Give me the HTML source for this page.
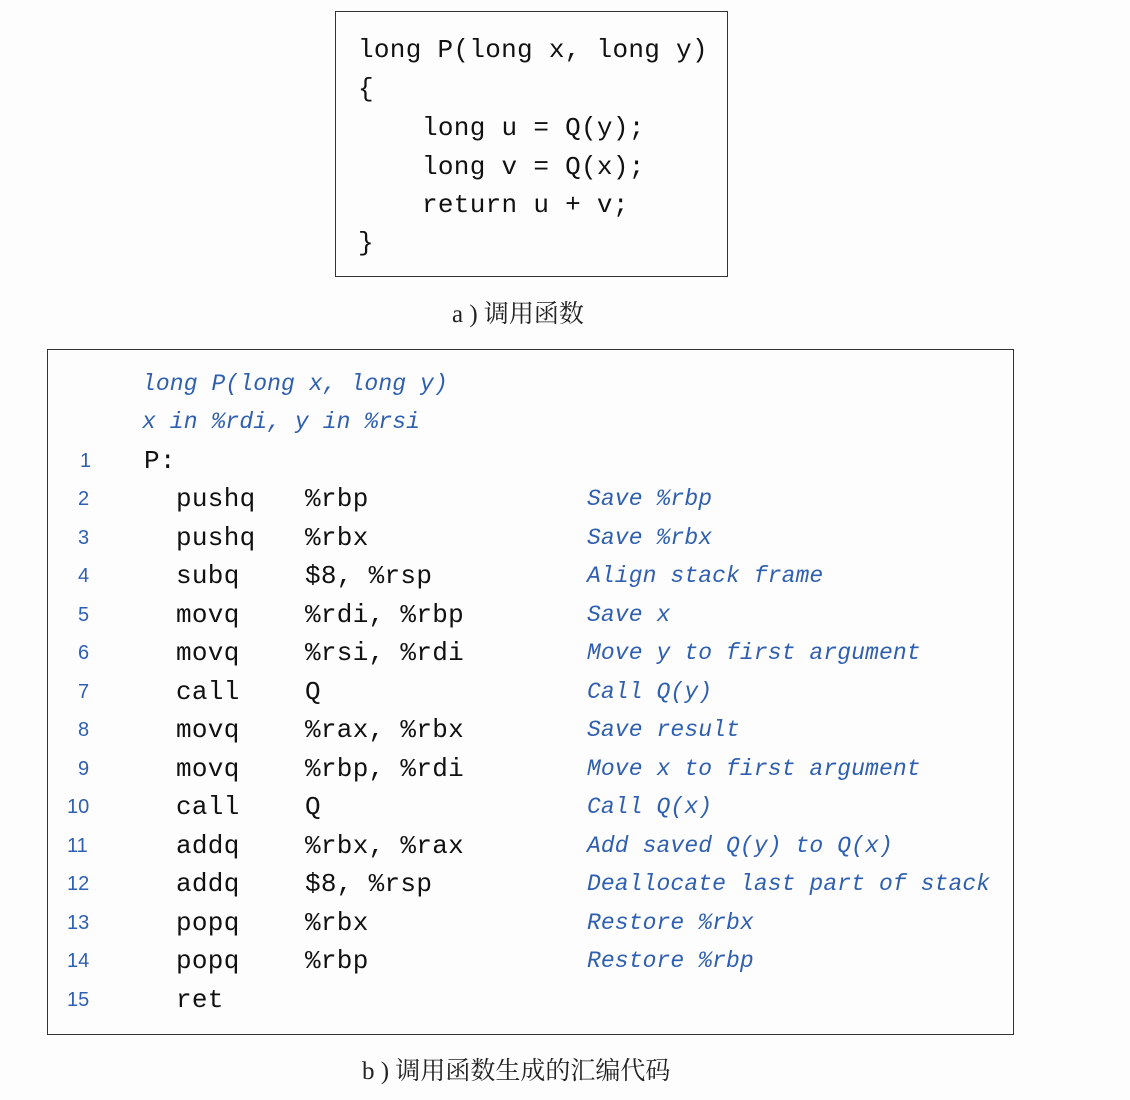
<!DOCTYPE html>
<html><head><meta charset="utf-8"><style>
body{margin:0;background:#fdfdfd;width:1130px;height:1100px;position:relative;overflow:hidden;font-family:"Liberation Mono",monospace;}
.box{position:absolute;border:1.5px solid #333;box-sizing:border-box;}
.l{position:absolute;height:30px;line-height:30px;white-space:pre;color:#111;}
.c{font-size:26px;letter-spacing:0.3px;}
.cm{font-size:23px;letter-spacing:0.1px;color:#2f5fb0;font-style:italic;}
.n{font-family:"Liberation Sans",sans-serif;font-size:20px;color:#2f5fb0;}
.cap{position:absolute;font-family:"Liberation Serif","Noto Serif CJK SC",serif;font-size:25px;color:#222;white-space:pre;}
</style></head><body>
<div class="box" style="left:335px;top:11px;width:393px;height:266px;"></div>
<div class="l c" style="left:358px;top:35px">long P(long x, long y)</div>
<div class="l c" style="left:358px;top:74px">{</div>
<div class="l c" style="left:422px;top:113px">long u = Q(y);</div>
<div class="l c" style="left:422px;top:152px">long v = Q(x);</div>
<div class="l c" style="left:422px;top:190px">return u + v;</div>
<div class="l c" style="left:358px;top:228px">}</div>
<div class="cap" style="left:452px;top:294px">a ) 调用函数</div>

<div class="box" style="left:47px;top:349px;width:967px;height:686px;"></div>
<div class="l cm" style="left:142px;top:369px">long P(long x, long y)</div>
<div class="l cm" style="left:142px;top:407px">x in %rdi, y in %rsi</div>

<div class="l n" style="left:80px;top:446px">1</div><div class="l c" style="left:144px;top:446px">P:</div>
<div class="l n" style="left:78px;top:484px">2</div><div class="l c" style="left:176px;top:484px">pushq</div><div class="l c" style="left:305px;top:484px">%rbp</div><div class="l cm" style="left:587px;top:484px">Save %rbp</div>
<div class="l n" style="left:78px;top:523px">3</div><div class="l c" style="left:176px;top:523px">pushq</div><div class="l c" style="left:305px;top:523px">%rbx</div><div class="l cm" style="left:587px;top:523px">Save %rbx</div>
<div class="l n" style="left:78px;top:561px">4</div><div class="l c" style="left:176px;top:561px">subq</div><div class="l c" style="left:305px;top:561px">$8, %rsp</div><div class="l cm" style="left:587px;top:561px">Align stack frame</div>
<div class="l n" style="left:78px;top:600px">5</div><div class="l c" style="left:176px;top:600px">movq</div><div class="l c" style="left:305px;top:600px">%rdi, %rbp</div><div class="l cm" style="left:587px;top:600px">Save x</div>
<div class="l n" style="left:78px;top:638px">6</div><div class="l c" style="left:176px;top:638px">movq</div><div class="l c" style="left:305px;top:638px">%rsi, %rdi</div><div class="l cm" style="left:587px;top:638px">Move y to first argument</div>
<div class="l n" style="left:78px;top:677px">7</div><div class="l c" style="left:176px;top:677px">call</div><div class="l c" style="left:305px;top:677px">Q</div><div class="l cm" style="left:587px;top:677px">Call Q(y)</div>
<div class="l n" style="left:78px;top:715px">8</div><div class="l c" style="left:176px;top:715px">movq</div><div class="l c" style="left:305px;top:715px">%rax, %rbx</div><div class="l cm" style="left:587px;top:715px">Save result</div>
<div class="l n" style="left:78px;top:754px">9</div><div class="l c" style="left:176px;top:754px">movq</div><div class="l c" style="left:305px;top:754px">%rbp, %rdi</div><div class="l cm" style="left:587px;top:754px">Move x to first argument</div>
<div class="l n" style="left:67px;top:792px">10</div><div class="l c" style="left:176px;top:792px">call</div><div class="l c" style="left:305px;top:792px">Q</div><div class="l cm" style="left:587px;top:792px">Call Q(x)</div>
<div class="l n" style="left:67px;top:831px">11</div><div class="l c" style="left:176px;top:831px">addq</div><div class="l c" style="left:305px;top:831px">%rbx, %rax</div><div class="l cm" style="left:587px;top:831px">Add saved Q(y) to Q(x)</div>
<div class="l n" style="left:67px;top:869px">12</div><div class="l c" style="left:176px;top:869px">addq</div><div class="l c" style="left:305px;top:869px">$8, %rsp</div><div class="l cm" style="left:587px;top:869px">Deallocate last part of stack</div>
<div class="l n" style="left:67px;top:908px">13</div><div class="l c" style="left:176px;top:908px">popq</div><div class="l c" style="left:305px;top:908px">%rbx</div><div class="l cm" style="left:587px;top:908px">Restore %rbx</div>
<div class="l n" style="left:67px;top:946px">14</div><div class="l c" style="left:176px;top:946px">popq</div><div class="l c" style="left:305px;top:946px">%rbp</div><div class="l cm" style="left:587px;top:946px">Restore %rbp</div>
<div class="l n" style="left:67px;top:985px">15</div><div class="l c" style="left:176px;top:985px">ret</div>
<div class="cap" style="left:362px;top:1051px">b ) 调用函数生成的汇编代码</div>
</body></html>
